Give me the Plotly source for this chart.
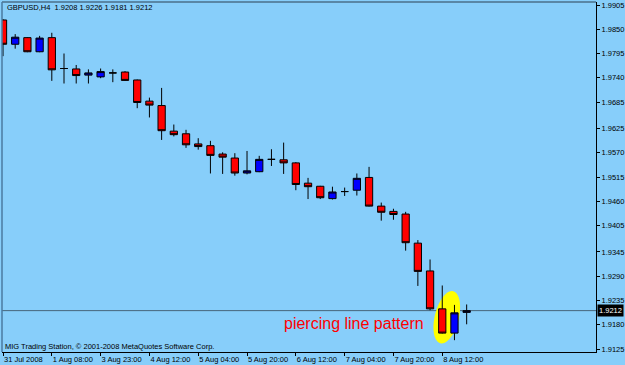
import numpy as np
import plotly.graph_objects as go

# ---------------- data (GBPUSD, H4) ----------------
bar_index = list(range(39))
open_ = [1.9871, 1.9816, 1.9831, 1.9799, 1.9831, 1.9761, 1.9760, 1.9746, 1.9742, 1.9751,
         1.9753, 1.9735, 1.9687, 1.9677, 1.9619, 1.9613, 1.9590, 1.9586, 1.9567, 1.9558,
         1.9524, 1.9527, 1.9555, 1.9554, 1.9547, 1.9501, 1.9494, 1.9466, 1.9482, 1.9485,
         1.9514, 1.9449, 1.9437, 1.9431, 1.9365, 1.9302, 1.9216, 1.9161, 1.9208]
high = [1.9873, 1.9839, 1.9832, 1.9835, 1.9842, 1.9795, 1.9769, 1.9759, 1.9761, 1.9759,
        1.9755, 1.9736, 1.9695, 1.9717, 1.9634, 1.9622, 1.9603, 1.9597, 1.9571, 1.9569,
        1.9574, 1.9563, 1.9578, 1.9593, 1.9549, 1.9513, 1.9495, 1.9493, 1.9491, 1.9523,
        1.9538, 1.9457, 1.9443, 1.9436, 1.9372, 1.9328, 1.9269, 1.9225, 1.9226]
low = [1.9789, 1.9806, 1.9798, 1.9798, 1.9733, 1.9727, 1.9727, 1.9727, 1.9739, 1.9730,
       1.9733, 1.9671, 1.9650, 1.9599, 1.9607, 1.9581, 1.9577, 1.9523, 1.9522, 1.9518,
       1.9521, 1.9526, 1.9540, 1.9522, 1.9485, 1.9465, 1.9465, 1.9464, 1.9472, 1.9473,
       1.9448, 1.9416, 1.9418, 1.9348, 1.9268, 1.9213, 1.9160, 1.9145, 1.9181]
close = [1.9816, 1.9832, 1.9799, 1.9830, 1.9758, 1.9761, 1.9745, 1.9751, 1.9754, 1.9751,
         1.9734, 1.9684, 1.9678, 1.9620, 1.9611, 1.9588, 1.9584, 1.9564, 1.9560, 1.9524,
         1.9529, 1.9555, 1.9555, 1.9547, 1.9498, 1.9493, 1.9468, 1.9481, 1.9482, 1.9512,
         1.9449, 1.9435, 1.9430, 1.9366, 1.9301, 1.9216, 1.9161, 1.9207, 1.9212]

x_tick_pos = [0, 4, 8, 12, 16, 20, 24, 28, 32, 36]
x_tick_labels = ["31 Jul 2008", "1 Aug 08:00", "3 Aug 23:00", "4 Aug 12:00", "5 Aug 04:00",
                 "5 Aug 20:00", "6 Aug 12:00", "7 Aug 04:00", "7 Aug 20:00", "8 Aug 12:00"]
y_tick_vals = [1.9905, 1.9850, 1.9795, 1.9740, 1.9685, 1.9625, 1.9570, 1.9515, 1.9460,
               1.9405, 1.9345, 1.9290, 1.9235, 1.9180, 1.9125]
y_tick_labels = ["%.4f" % v for v in y_tick_vals]

symbol_title = "GBPUSD,H4  1.9208 1.9226 1.9181 1.9212"
current_price = 1.9212
footer_text = "MIG Trading Station, © 2001-2008 MetaQuotes Software Corp."
pattern_text = "piercing line pattern"

# ---------------- style ----------------
BG = "#87CEFA"
FONT = "Liberation Sans"
FS = 7.5
W, H = 625, 365
ML, MR, MT, MB = 2, 29, 2, 13
x_range = [-0.082, 48.6]
y_range = [1.91182, 1.99118]

fig = go.Figure()
fig.add_trace(go.Candlestick(
    x=bar_index, open=open_, high=high, low=low, close=close,
    increasing=dict(fillcolor="#0000FF", line=dict(color="#000000", width=1)),
    decreasing=dict(fillcolor="#FF0000", line=dict(color="#000000", width=1)),
    whiskerwidth=0, hoverinfo="skip", showlegend=False,
))

# highlight ellipse around the two-bar pattern (center in data units, size in px)
plot_w = W - ML - MR
plot_h = H - MT - MB
px_per_x = plot_w / (x_range[1] - x_range[0])
px_per_y = plot_h / (y_range[1] - y_range[0])
ell_cx, ell_cy = 36.37, 1.9197
ell_a, ell_b, ell_tilt = 26.8, 12.0, np.deg2rad(14)
t = np.linspace(0, 2 * np.pi, 60, endpoint=False)
u = ell_a * np.cos(t)
v = ell_b * np.sin(t)
maj = np.array([np.sin(ell_tilt), -np.cos(ell_tilt)])
mnr = np.array([np.cos(ell_tilt), np.sin(ell_tilt)])
px_x = u * maj[0] + v * mnr[0]
px_y = u * maj[1] + v * mnr[1]
ex = ell_cx + px_x / px_per_x
ey = ell_cy - px_y / px_per_y
path = "M " + " L ".join("%.4f,%.6f" % (a, b) for a, b in zip(ex, ey)) + " Z"

shapes = [
    dict(type="path", path=path, xref="x", yref="y", fillcolor="#FFFF00",
         line=dict(width=0), layer="below"),
    dict(type="line", xref="paper", yref="y", x0=0, x1=1, y0=current_price, y1=current_price,
         line=dict(color="#46657a", width=1), layer="below"),
    dict(type="line", xref="paper", yref="paper", x0=0, x1=1, y0=1, y1=1,
         line=dict(color="#4a6f8a", width=1.5), layer="above"),
    dict(type="line", xref="paper", yref="paper", x0=0, x1=0, y0=0, y1=1,
         line=dict(color="#4a7aa0", width=1.5), layer="above"),
]

annotations = [
    dict(text=symbol_title, xref="paper", yref="paper", x=(5 - ML) / plot_w,
         y=(H - MB - 7.7) / plot_h, xanchor="left", yanchor="middle", showarrow=False,
         font=dict(family=FONT, size=FS, color="black")),
    dict(text=footer_text, xref="paper", yref="paper", x=(3 - ML) / plot_w,
         y=(H - MB - 346) / plot_h, xanchor="left", yanchor="middle", showarrow=False,
         font=dict(family=FONT, size=FS, color="black")),
    dict(text=pattern_text, xref="paper", yref="paper", x=(282 - ML) / plot_w,
         y=(H - MB - 323) / plot_h, xanchor="left", yanchor="middle", showarrow=False,
         font=dict(family=FONT, size=16, color="#FF0000")),
    dict(text="%.4f" % current_price, xref="paper", yref="y", x=1, y=current_price,
         xanchor="left", yanchor="middle", xshift=1, showarrow=False, bgcolor="#000000",
         borderpad=1, font=dict(family=FONT, size=FS, color="white")),
]

fig.update_layout(
    width=W, height=H, margin=dict(l=ML, r=MR, t=MT, b=MB),
    paper_bgcolor=BG, plot_bgcolor=BG, boxgap=0.15,
    shapes=shapes, annotations=annotations, showlegend=False,
    font=dict(family=FONT, size=FS, color="black"),
    xaxis=dict(range=x_range, rangeslider=dict(visible=False), showgrid=False, zeroline=False,
               tickmode="array", tickvals=x_tick_pos, ticktext=x_tick_labels,
               ticks="outside", ticklen=3, tickcolor="black", tickwidth=1,
               ticklabelposition="outside right", tickangle=0, automargin=False,
               showline=True, linecolor="black", linewidth=1,
               tickfont=dict(family=FONT, size=FS, color="black"), fixedrange=True),
    yaxis=dict(range=y_range, side="right", showgrid=False, zeroline=False,
               tickmode="array", tickvals=y_tick_vals, ticktext=y_tick_labels,
               ticks="outside", ticklen=3, tickcolor="black", tickwidth=1,
               automargin=False,
               showline=True, linecolor="black", linewidth=1,
               tickfont=dict(family=FONT, size=FS, color="black"), fixedrange=True),
)

fig.write_html("out.html", config={"displayModeBar": False})
